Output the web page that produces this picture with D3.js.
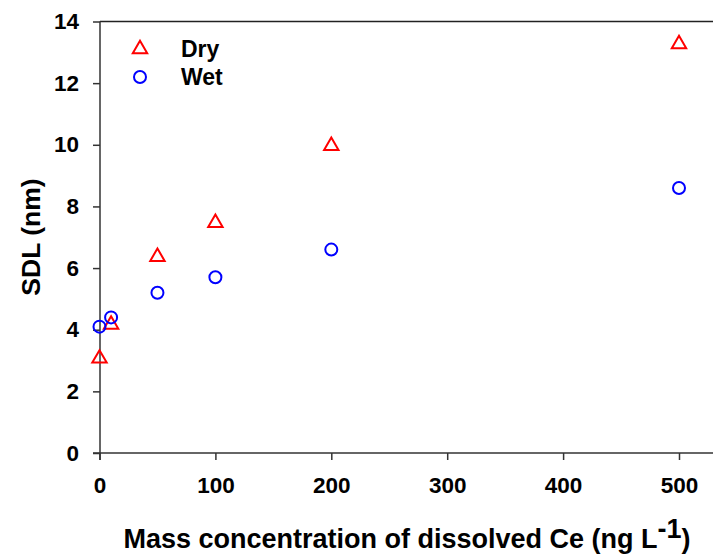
<!DOCTYPE html>
<html>
<head>
<meta charset="utf-8">
<script src="https://cdn.jsdelivr.net/npm/d3@7"></script>
<style>
  body { margin: 0; background: #fff; }
  text { font-family: Arial, "Liberation Sans", sans-serif; font-weight: bold; }
</style>
</head>
<body>
<div id="root"></div>
<script>
const concentrations = [0, 10, 50, 100, 200, 500]
const dryValues = [3.1, 4.2, 6.4, 7.5, 10.0, 13.3]
const wetValues = [4.1, 4.4, 5.2, 5.7, 6.6, 8.6]
const xTicks = [0, 100, 200, 300, 400, 500]
const yTicks = [0, 2, 4, 6, 8, 10, 12, 14]
const seriesNames = ['Dry', 'Wet']

const graph = { width: 713, height: 558, left: 100, top: 21.5, bottom: 453, right: 713 }

const svg = d3.select('#root')
  .append('svg')
  .attr('width', graph.width)
  .attr('height', graph.height)

const scaleX = d3.scaleLinear()
  .domain([0, 500])
  .range([99.5, 679])

const scaleY = d3.scaleLinear()
  .domain([0, 14])
  .range([graph.bottom, graph.top])

// top frame line
svg.append('line')
  .attr('x1', graph.left).attr('x2', graph.right)
  .attr('y1', graph.top).attr('y2', graph.top)
  .attr('stroke', '#222').attr('stroke-width', 1.5)

const xAxis = svg.append('g')
  .attr('transform', `translate(0, ${graph.bottom})`)
  .call(d3.axisBottom(scaleX).tickValues(xTicks).tickSize(7).tickPadding(17).tickSizeOuter(0))
xAxis.select('.domain').attr('d', `M93,0H${graph.right}`)

const yAxis = svg.append('g')
  .attr('transform', `translate(${graph.left}, 0)`)
  .call(d3.axisLeft(scaleY).tickValues(yTicks).tickSize(7).tickPadding(14).tickSizeOuter(0))
yAxis.select('.domain').attr('d', `M0,${graph.top}V${graph.bottom + 7}`)

svg.selectAll('.domain, .tick line').attr('stroke', '#333').attr('stroke-width', 1.5)
svg.selectAll('.tick text')
  .attr('font-size', 22.5)
  .attr('font-weight', 'bold')
  .attr('font-family', 'Arial, "Liberation Sans", sans-serif')
  .attr('fill', '#000')

// axis titles
const xTitle = svg.append('text')
  .attr('x', 407).attr('y', 548)
  .attr('text-anchor', 'middle')
  .attr('font-size', 27)
xTitle.append('tspan').text('Mass concentration of dissolved Ce (ng L')
xTitle.append('tspan').attr('dy', -10).text('-1')
xTitle.append('tspan').attr('dy', 10).text(')')

svg.append('text')
  .attr('transform', 'translate(40, 237) rotate(-90)')
  .attr('text-anchor', 'middle')
  .attr('font-size', 26.5)
  .text('SDL (nm)')

const triangle = d3.symbol().type(d3.symbolTriangle).size(90)

// dry: triangles
svg.append('g').selectAll('path')
  .data(concentrations.map((c, i) => [c, dryValues[i]]))
  .join('path')
  .attr('d', triangle)
  .attr('transform', d => `translate(${scaleX(d[0])}, ${scaleY(d[1]) + 1})`)
  .attr('fill', 'none').attr('stroke', '#ff0000').attr('stroke-width', 2)

// wet: circles
svg.append('g').selectAll('circle')
  .data(concentrations.map((c, i) => [c, wetValues[i]]))
  .join('circle')
  .attr('cx', d => scaleX(d[0]))
  .attr('cy', d => scaleY(d[1]))
  .attr('r', 6)
  .attr('fill', 'none').attr('stroke', '#0000ff').attr('stroke-width', 2)

// legend
const legend = svg.append('g')
legend.append('path')
  .attr('d', triangle)
  .attr('transform', 'translate(140, 49)')
  .attr('fill', 'none').attr('stroke', '#ff0000').attr('stroke-width', 2)
legend.append('circle')
  .attr('cx', 140).attr('cy', 77).attr('r', 6)
  .attr('fill', 'none').attr('stroke', '#0000ff').attr('stroke-width', 2)
legend.selectAll('text')
  .data(seriesNames)
  .join('text')
  .attr('x', 181)
  .attr('y', (d, i) => 57 + i * 28)
  .attr('font-size', 23)
  .text(d => d)
</script>
</body>
</html>
